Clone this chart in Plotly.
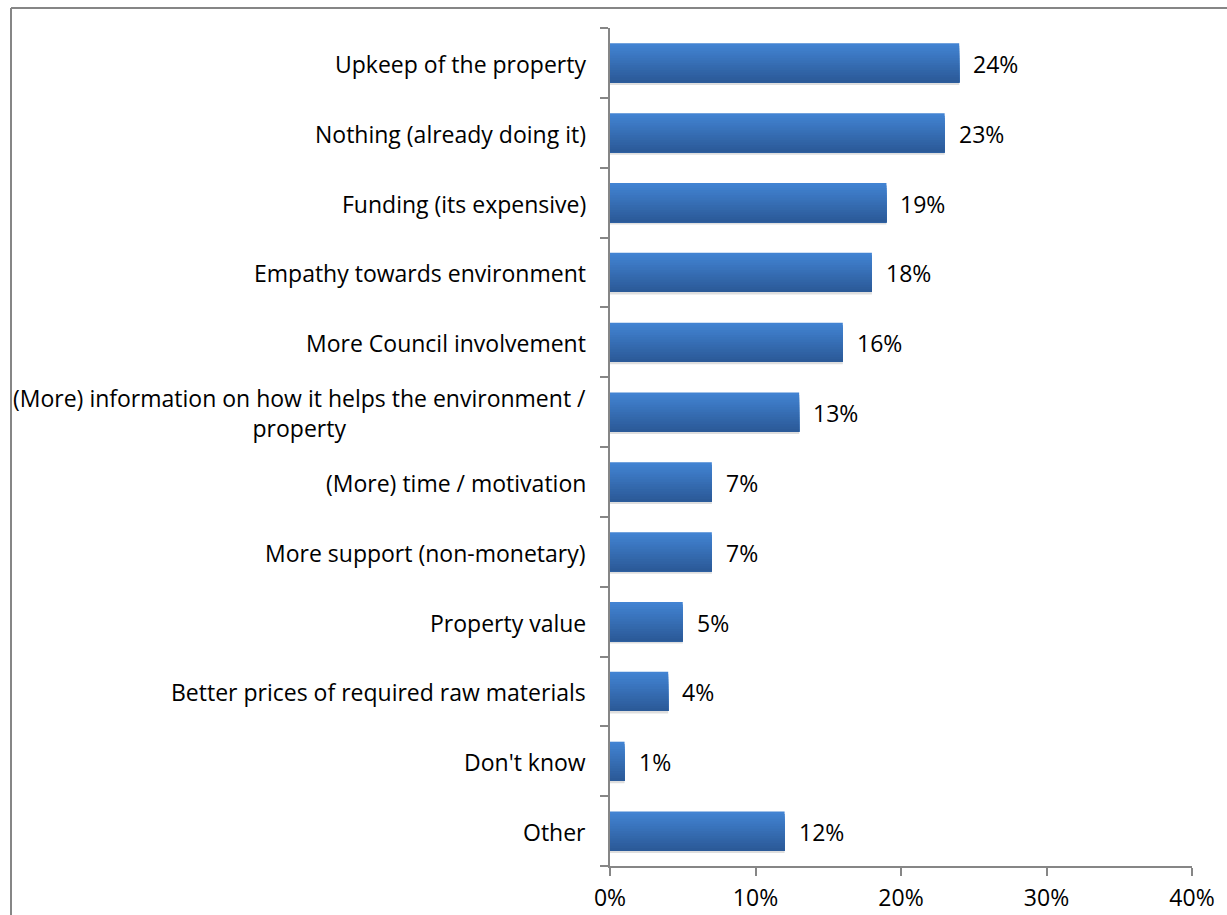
import plotly.graph_objects as go

categories = [
    "Upkeep of the property",
    "Nothing (already doing it)",
    "Funding (its expensive)",
    "Empathy towards environment",
    "More Council involvement",
    "(More) information on how it helps the environment /<br>property",
    "(More) time / motivation",
    "More support (non-monetary)",
    "Property value",
    "Better prices of required raw materials",
    "Don't know",
    "Other",
]
values = [24, 23, 19, 18, 16, 13, 7, 7, 5, 4, 1, 12]
x_ticks = [0, 10, 20, 30, 40]
x_tick_labels = ["0%", "10%", "20%", "30%", "40%"]

FONT = "Open Sans"
FONT_SIZE = 23
BAR_WIDTH = 0.56
N_STRIPS = 16
TOP_RGB = (66, 131, 210)
BOTTOM_RGB = (43, 90, 152)

y_idx = list(range(len(categories)))

fig = go.Figure()

# soft shadow beneath each bar
fig.add_trace(go.Bar(
    x=values, y=y_idx, orientation="h",
    width=BAR_WIDTH, offset=-BAR_WIDTH / 2 + 0.035,
    marker=dict(color="rgba(0,0,0,0.13)", line=dict(width=0)),
    hoverinfo="skip", showlegend=False,
))

# vertical gradient: each layer starts lower and runs to the bar's bottom edge,
# so later (darker) layers cover the lower part without leaving seams
strip = BAR_WIDTH / N_STRIPS
for i in range(N_STRIPS):
    t = i / (N_STRIPS - 1)
    r, g, b = (round(TOP_RGB[k] + (BOTTOM_RGB[k] - TOP_RGB[k]) * t) for k in range(3))
    fig.add_trace(go.Bar(
        x=values, y=y_idx, orientation="h",
        width=BAR_WIDTH - i * strip, offset=-BAR_WIDTH / 2 + i * strip,
        marker=dict(color=f"rgb({r},{g},{b})", line=dict(width=0)),
        hoverinfo="skip", showlegend=False,
    ))

annotations = []
for i, (cat, v) in enumerate(zip(categories, values)):
    annotations.append(dict(
        x=0, y=i, xref="x", yref="y", text=cat, showarrow=False,
        xanchor="right", yanchor="middle", align="center", xshift=-22, yshift=-1,
        font=dict(family=FONT, size=FONT_SIZE, color="#000000"),
    ))
    annotations.append(dict(
        x=v, y=i, xref="x", yref="y", text=f"{v}%", showarrow=False,
        xanchor="left", yanchor="middle", xshift=12, yshift=-1,
        font=dict(family=FONT, size=FONT_SIZE, color="#000000"),
    ))

W, H = 1227, 915
L, R, T, B = 610, 35, 28, 49
pw, ph = W - L - R, H - T - B

fig.update_layout(
    width=W, height=H,
    margin=dict(l=L, r=R, t=T, b=B),
    paper_bgcolor="white", plot_bgcolor="white",
    barmode="overlay",
    annotations=annotations,
    xaxis=dict(
        range=[0, 40], tickvals=x_ticks, ticktext=x_tick_labels,
        showgrid=False, zeroline=False, automargin=False,
        showline=True, linecolor="#868686", linewidth=2,
        ticks="outside", ticklen=8, tickcolor="#868686", tickwidth=2,
        ticklabelstandoff=2,
        tickfont=dict(family=FONT, size=FONT_SIZE, color="#000000"),
        fixedrange=True,
    ),
    yaxis=dict(
        range=[len(categories) - 0.5, -0.5],
        tickvals=[i - 0.5 for i in range(len(categories) + 1)],
        ticktext=[""] * (len(categories) + 1),
        showgrid=False, zeroline=False, automargin=False,
        showline=True, linecolor="#868686", linewidth=2,
        ticks="outside", ticklen=8, tickcolor="#868686", tickwidth=2,
        fixedrange=True,
    ),
    shapes=[
        # chart frame (left and top edges)
        dict(type="line", xref="paper", yref="paper",
             x0=(11 - L) / pw, x1=(11 - L) / pw, y0=(H - B - 8) / ph, y1=-B / ph - 0.01,
             line=dict(color="#868686", width=2)),
        dict(type="line", xref="paper", yref="paper",
             x0=(11 - L) / pw, x1=(W - L) / pw + 0.01, y0=(H - B - 8) / ph, y1=(H - B - 8) / ph,
             line=dict(color="#868686", width=2)),
    ],
)

fig.write_html("out.html")
